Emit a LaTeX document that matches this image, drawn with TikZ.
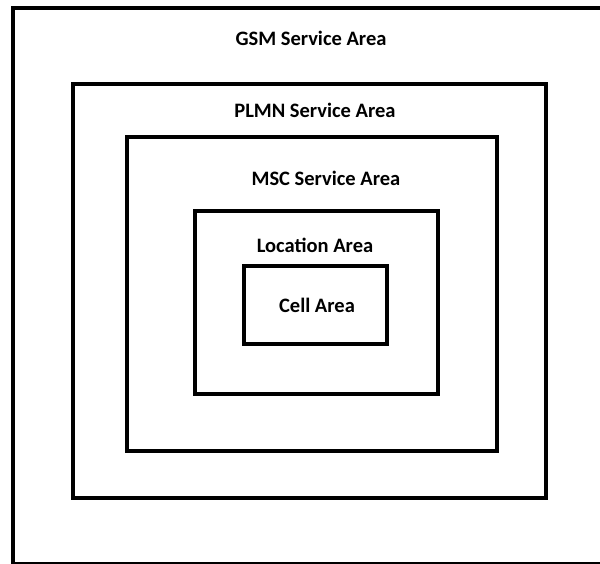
\documentclass[tikz,border=0pt]{standalone}
\usepackage{fontspec}
\setmainfont{Carlito}
\usepackage{tikz}
\tikzset{area/.style={draw=black, line width=4pt},
  lbl/.style={font=\bfseries\fontsize{20.5}{24}\selectfont, inner sep=0pt}}

\begin{document}
\begin{tikzpicture}[x=1pt, y=-1pt]
		\useasboundingbox (0,0) rectangle (600,564);
		\path (13,8) coordinate(gsmtl) (625,563.5) coordinate(gsmbr);
		\path (73,84.5) coordinate(plmntl) (546,498) coordinate(plmnbr);
		\path (127,137) coordinate(msctl) (497,451) coordinate(mscbr);
		\path (195,211) coordinate(loctl) (438,393.5) coordinate(locbr);
		\path (244,266) coordinate(celltl) (387,344) coordinate(cellbr);
		\draw[area] (gsmtl) rectangle (gsmbr);
		\draw[area] (plmntl) rectangle (plmnbr);
		\draw[area] (msctl) rectangle (mscbr);
		\draw[area] (loctl) rectangle (locbr);
		\draw[area] (celltl) rectangle (cellbr);
		\node[lbl] (gsm) at (311,38) {GSM Service Area};
		\node[lbl] (plmn) at (315,110) {PLMN Service Area};
		\node[lbl] (msc) at (326,178) {MSC Service Area};
		\node[lbl] (loc) at (315,245) {Location Area};
		\node[lbl] (cell) at (317,305) {Cell Area};
		\end{tikzpicture}
\end{document}
